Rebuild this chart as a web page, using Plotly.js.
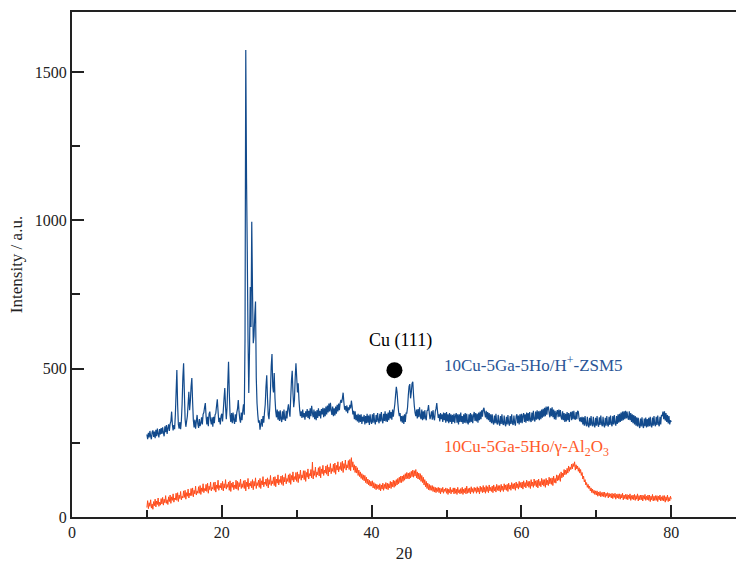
<!DOCTYPE html>
<html>
<head>
<meta charset="utf-8">
<script src="https://cdn.plot.ly/plotly-3.0.1.min.js"></script>
<style>html,body{margin:0;padding:0;background:#fff;}#chart{width:736px;height:563px;}</style>
</head>
<body>
<div id="chart"></div>
<script>
// 2-theta grid: start and step for each pattern
const zsmStart = 10, zsmStep = 0.1;
const aluStart = 10, aluStep = 0.1;

// 10Cu-5Ga-5Ho/H+-ZSM5 intensities (10.0 .. 80.0, step 0.1)
const zsmIntensity = [
278,262,284,268,290,272,262,286,292,270,
288,266,294,272,298,280,268,296,278,300,
280,302,284,272,306,286,310,280,300,312,
290,314,322,355,312,292,310,296,345,420,
495,380,312,298,320,296,324,380,470,518,
420,330,304,322,340,380,422,360,390,440,
468,390,326,302,328,298,322,344,314,300,
330,306,316,336,312,346,352,370,384,340,
312,338,306,348,355,326,312,336,304,338,
316,344,350,375,397,356,320,334,312,340,
348,322,360,400,435,372,330,368,450,523,
420,345,320,350,316,352,326,314,346,320,
352,365,394,355,330,318,352,326,358,380,
345,600,1574,1143,893,600,418,560,775,640,
995,760,586,610,680,726,470,384,346,318,
326,294,314,330,304,340,318,352,380,440,
478,400,344,330,368,430,510,549,440,420,
485,400,356,336,362,328,356,324,360,330,
320,356,328,362,330,324,358,332,364,380,
356,338,400,460,493,420,370,395,470,518,
470,420,451,396,360,340,356,334,362,336,
350,328,356,338,364,334,358,330,366,340,
375,350,336,362,330,356,326,360,334,366,
340,358,332,364,346,368,336,366,340,372,
346,376,352,382,356,385,360,344,372,340,
366,342,372,348,378,356,382,360,384,395,
385,400,419,386,362,374,356,376,350,370,
360,378,366,392,372,346,358,330,356,326,
344,322,348,318,344,320,346,314,338,322,
344,312,340,316,348,318,342,310,346,322,
314,346,318,350,322,312,344,320,350,326,
316,348,322,354,326,316,348,324,356,322,
348,320,352,326,360,332,354,328,362,338,
360,380,410,439,420,385,356,340,350,322,
340,318,342,314,346,320,350,350,370,410,
440,448,400,420,450,456,410,375,352,340,
362,332,364,336,370,340,330,362,326,356,
330,360,334,326,358,360,377,350,330,342,
356,328,360,334,326,356,365,384,356,334,
346,322,350,330,346,320,352,326,350,318,
354,322,346,316,350,320,346,314,344,320,
348,316,342,350,318,346,312,346,320,352,
320,340,314,346,318,350,316,348,320,312,
346,318,350,320,346,316,342,354,324,350,
322,348,318,352,326,355,330,360,338,362,
368,350,336,358,330,354,326,350,320,346,
316,346,318,312,342,316,348,318,312,344,
318,308,340,314,346,316,310,342,314,306,
338,312,344,316,308,340,314,346,316,310,
342,316,308,340,346,316,342,312,346,318,
348,316,342,350,320,346,318,352,324,350,
322,354,326,320,352,325,358,328,322,355,
328,360,330,356,326,358,330,362,335,365,
338,368,340,372,345,370,372,350,336,366,
340,370,336,362,330,358,328,352,360,336,
362,338,360,336,328,356,326,350,320,348,
322,354,326,350,320,346,354,326,356,330,
358,332,328,354,330,358,355,332,322,336,
320,338,312,336,308,340,314,306,338,310,
302,334,308,340,312,306,338,310,302,334,
308,340,312,304,336,310,342,314,306,338,
310,302,334,308,340,312,305,338,310,342,
314,306,340,312,344,316,308,340,314,346,
318,348,320,352,324,355,326,356,330,358,
332,355,335,328,356,326,350,320,346,316,
344,312,340,308,336,305,334,308,300,332,
305,336,308,300,332,306,335,302,330,304,
334,306,338,308,302,335,308,340,312,306,
338,310,342,314,306,338,312,344,340,355,
330,356,325,350,320,344,315,340,312,326,
320
];

// 10Cu-5Ga-5Ho/gamma-Al2O3 intensities (10.0 .. 80.0, step 0.1)
const aluIntensity = [
32,55,28,48,36,58,30,44,26,52,
38,60,34,54,42,64,36,50,40,62,
44,66,40,60,48,72,46,58,42,68,
52,74,46,68,56,78,50,64,58,80,
56,82,52,74,62,86,58,70,64,88,
66,90,60,82,70,94,64,80,72,96,
72,98,68,90,78,104,74,88,80,102,
80,106,76,98,86,112,82,96,88,110,
86,114,80,104,92,118,88,100,94,116,
90,118,84,108,96,124,90,106,98,114,
92,120,88,112,98,126,94,110,100,118,
90,122,86,114,100,118,92,108,96,124,
94,120,90,116,102,128,96,112,100,122,
96,124,88,118,102,130,94,114,104,120,
98,126,92,120,104,132,96,116,106,124,
100,130,96,122,108,136,102,118,110,128,
104,132,98,126,110,140,106,122,112,134,
106,136,102,128,114,142,108,126,116,138,
110,140,106,134,118,146,112,130,120,142,
116,146,110,140,124,152,118,136,126,150,
120,152,116,144,130,158,124,142,132,156,
126,156,120,150,134,162,128,146,138,160,
132,185,128,156,140,168,134,152,142,166,
138,170,132,162,146,174,140,158,148,172,
144,176,138,168,152,180,146,164,154,178,
150,182,144,174,158,186,152,170,160,184,
156,188,150,180,164,192,158,176,166,190,
160,194,156,200,168,186,158,176,150,172,
148,166,140,158,136,152,130,146,126,142,
122,140,116,134,112,128,108,124,104,120,
104,122,98,116,96,112,92,110,96,108,
92,112,88,108,94,114,90,110,96,116,
94,114,92,112,98,120,96,118,102,124,
100,122,104,126,108,130,112,134,116,138,
116,138,120,142,124,146,128,150,130,148,
128,150,132,154,136,158,134,156,138,160,
132,152,128,148,126,146,120,140,116,134,
108,126,102,120,96,114,92,110,90,106,
90,106,86,102,84,100,82,98,86,100,
82,98,78,96,84,100,80,94,86,98,
80,96,76,94,82,100,78,92,84,98,
78,98,80,94,76,100,82,92,78,96,
80,100,76,94,82,98,78,104,80,96,
82,98,78,102,84,96,80,100,86,98,
80,102,84,98,78,104,86,100,82,106,
84,100,80,106,86,102,82,108,88,100,
86,104,82,108,88,102,84,110,90,106,
88,106,84,110,90,104,86,112,92,108,
90,110,86,114,94,108,90,116,96,112,
94,114,90,118,98,112,94,120,100,116,
98,118,94,122,102,116,98,124,104,120,
100,120,96,126,104,118,100,128,106,122,
102,124,98,128,106,120,102,130,108,126,
104,126,100,130,108,124,106,134,112,130,
110,132,106,138,116,130,114,142,122,140,
124,146,120,152,132,148,136,160,142,158,
144,164,148,172,154,168,160,178,162,180,
170,186,158,176,162,172,154,166,148,160,
140,150,128,138,118,126,108,116,100,110,
96,104,88,98,82,94,80,90,76,88,
74,88,70,84,72,86,68,82,70,84,
68,84,66,80,70,82,64,80,68,78,
64,80,62,78,66,80,60,76,64,78,
62,78,60,76,64,80,58,74,62,76,
60,76,58,74,62,78,56,72,60,74,
58,76,56,72,60,78,54,72,58,74,
58,74,54,72,60,76,56,70,58,74,
56,74,52,70,58,76,54,70,56,72,
56,72,52,70,58,74,54,68,56,72,
54,72,50,68,56,74,52,66,54,70,
60
];

// Cu (111) marker position
const cuMarkerX = [43.05];
const cuMarkerY = [495];

// text labels
const zsmLabel = '10Cu-5Ga-5Ho/H<sup>+</sup>-ZSM5';
const aluLabel = '10Cu-5Ga-5Ho/γ-Al<sub>2</sub>O<sub>3</sub>';
const cuLabel = 'Cu (111)';
const xTitle = '2θ';
const yTitle = 'Intensity / a.u.';

const blue = '#124a8c';
const orange = '#ff4b1a';
const axisColor = '#222222';
const serif = 'Liberation Serif, Times New Roman, serif';

const traces = [
  {type:'scatter', mode:'lines', x0:zsmStart, dx:zsmStep, y:zsmIntensity,
   line:{color:blue, width:1.2, simplify:false}, hoverinfo:'skip'},
  {type:'scatter', mode:'lines', x0:aluStart, dx:aluStep, y:aluIntensity,
   line:{color:orange, width:1, simplify:false}, hoverinfo:'skip'},
  {type:'scatter', mode:'markers', x:cuMarkerX, y:cuMarkerY,
   marker:{color:'#000', size:16, symbol:'circle'}, hoverinfo:'skip'}
];

const layout = {
  width:736, height:563,
  margin:{l:72, r:0, t:12, b:46},
  paper_bgcolor:'#fff', plot_bgcolor:'#fff',
  showlegend:false,
  font:{family:serif, size:16, color:axisColor},
  xaxis:{
    range:[0, 88.65], tick0:0, dtick:20,
    ticks:'inside', ticklen:12, tickwidth:2, tickcolor:axisColor,
    minor:{dtick:10, ticks:'inside', ticklen:7, tickwidth:2, tickcolor:axisColor},
    showline:true, linewidth:2, linecolor:axisColor, mirror:true,
    showgrid:false, zeroline:false,
    tickfont:{family:serif, size:16, color:axisColor},
    title:{text:xTitle, font:{family:serif, size:17, color:axisColor}, standoff:10}
  },
  yaxis:{
    range:[0, 1702], tick0:0, dtick:500,
    ticks:'inside', ticklen:12, tickwidth:2, tickcolor:axisColor,
    minor:{dtick:250, ticks:'inside', ticklen:8, tickwidth:2, tickcolor:axisColor},
    showline:true, linewidth:2, linecolor:axisColor,
    showgrid:false, zeroline:false,
    tickfont:{family:serif, size:16, color:axisColor},
    title:{text:yTitle, font:{family:serif, size:17, color:axisColor}, standoff:8}
  },
  annotations:[
    {x:43.8, y:596, xref:'x', yref:'y', text:cuLabel, showarrow:false,
     font:{family:serif, size:18, color:'#000'}},
    {x:49.4, y:516, xref:'x', yref:'y', text:zsmLabel, showarrow:false, xanchor:'left',
     font:{family:serif, size:17, color:'#2a5597'}},
    {x:49.4, y:232, xref:'x', yref:'y', text:aluLabel, showarrow:false, xanchor:'left',
     font:{family:serif, size:17, color:'#ff5a2a'}}
  ]
};

Plotly.newPlot('chart', traces, layout, {staticPlot:true, displayModeBar:false});
</script>
</body>
</html>
